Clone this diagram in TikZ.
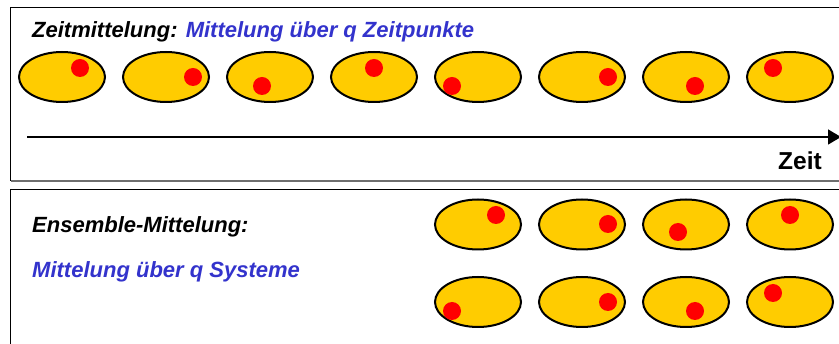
\documentclass[tikz,border=0pt]{standalone}
\usepackage{fontspec}
\setmainfont{Liberation Sans}
\usetikzlibrary{arrows.meta,shapes.geometric}
\definecolor{sysyellow}{RGB}{255,204,0}
\definecolor{dotred}{RGB}{255,0,0}
\definecolor{textblue}{RGB}{51,51,204}
\definecolor{shadowgray}{RGB}{110,110,110}
\begin{document}
\begin{tikzpicture}[x=1pt,y=-1pt,
  system/.style={ellipse,draw=black,line width=2pt,fill=sysyellow,
    minimum width=86pt,minimum height=50pt,inner sep=0pt},
  particle/.style={circle,fill=dotred,minimum size=18pt,inner sep=0pt},
  label/.style={inner sep=0pt,anchor=base west,
    font=\fontsize{22}{26}\selectfont\bfseries\itshape},
  frame/.style={draw=black,line width=1pt},
  frameshadow/.style={draw=shadowgray,line width=2pt}]
\useasboundingbox (0,0) rectangle (839,344);

% panel frames (right and lower edges run off the page)
\draw[frameshadow] (11,181.5) -- (845,181.5);
\draw[frame] (10.5,181) -- (10.5,7.5) -- (845,7.5);
\draw[frame] (10.5,350) -- (10.5,189.5) -- (845,189.5);

% time average panel
\node[label] (ztitle) at (32,37.3) {Zeitmittelung: \textcolor{textblue}{Mittelung über q Zeitpunkte}};

\foreach \i/\dx/\dy in {0/80/68, 1/193/77, 2/262/86, 3/374/68,
                        4/452/86, 5/608/77, 6/695/86, 7/773/68} {
  \node[system] (t\i) at (62+104*\i,77) {};
  \node[particle] (tp\i) at (\dx,\dy) {};
}

\coordinate (axisstart) at (27,137);
\coordinate (axisend) at (841,137);
\draw[line width=1.5pt,-{Triangle[length=13pt,width=15pt]}] (axisstart) -- (axisend);
\node[inner sep=0pt,anchor=base west,font=\fontsize{24.5}{28}\selectfont\bfseries]
  (zeit) at (778,170) {Zeit};

% ensemble average panel
\node[label] (etitle) at (32,233) {Ensemble-Mittelung:};
\node[label,text=textblue] (esub) at (32,278) {Mittelung über q Systeme};

\foreach \i/\dx/\dy in {0/496/215, 1/608/224, 2/678/232, 3/790/215} {
  \node[system] (a\i) at (478+104*\i,224.5) {};
  \node[particle] (ap\i) at (\dx,\dy) {};
}
\foreach \i/\dx/\dy in {0/452/311, 1/608/302, 2/695/311, 3/773/293} {
  \node[system] (b\i) at (478+104*\i,302) {};
  \node[particle] (bp\i) at (\dx,\dy) {};
}
\end{tikzpicture}
\end{document}
